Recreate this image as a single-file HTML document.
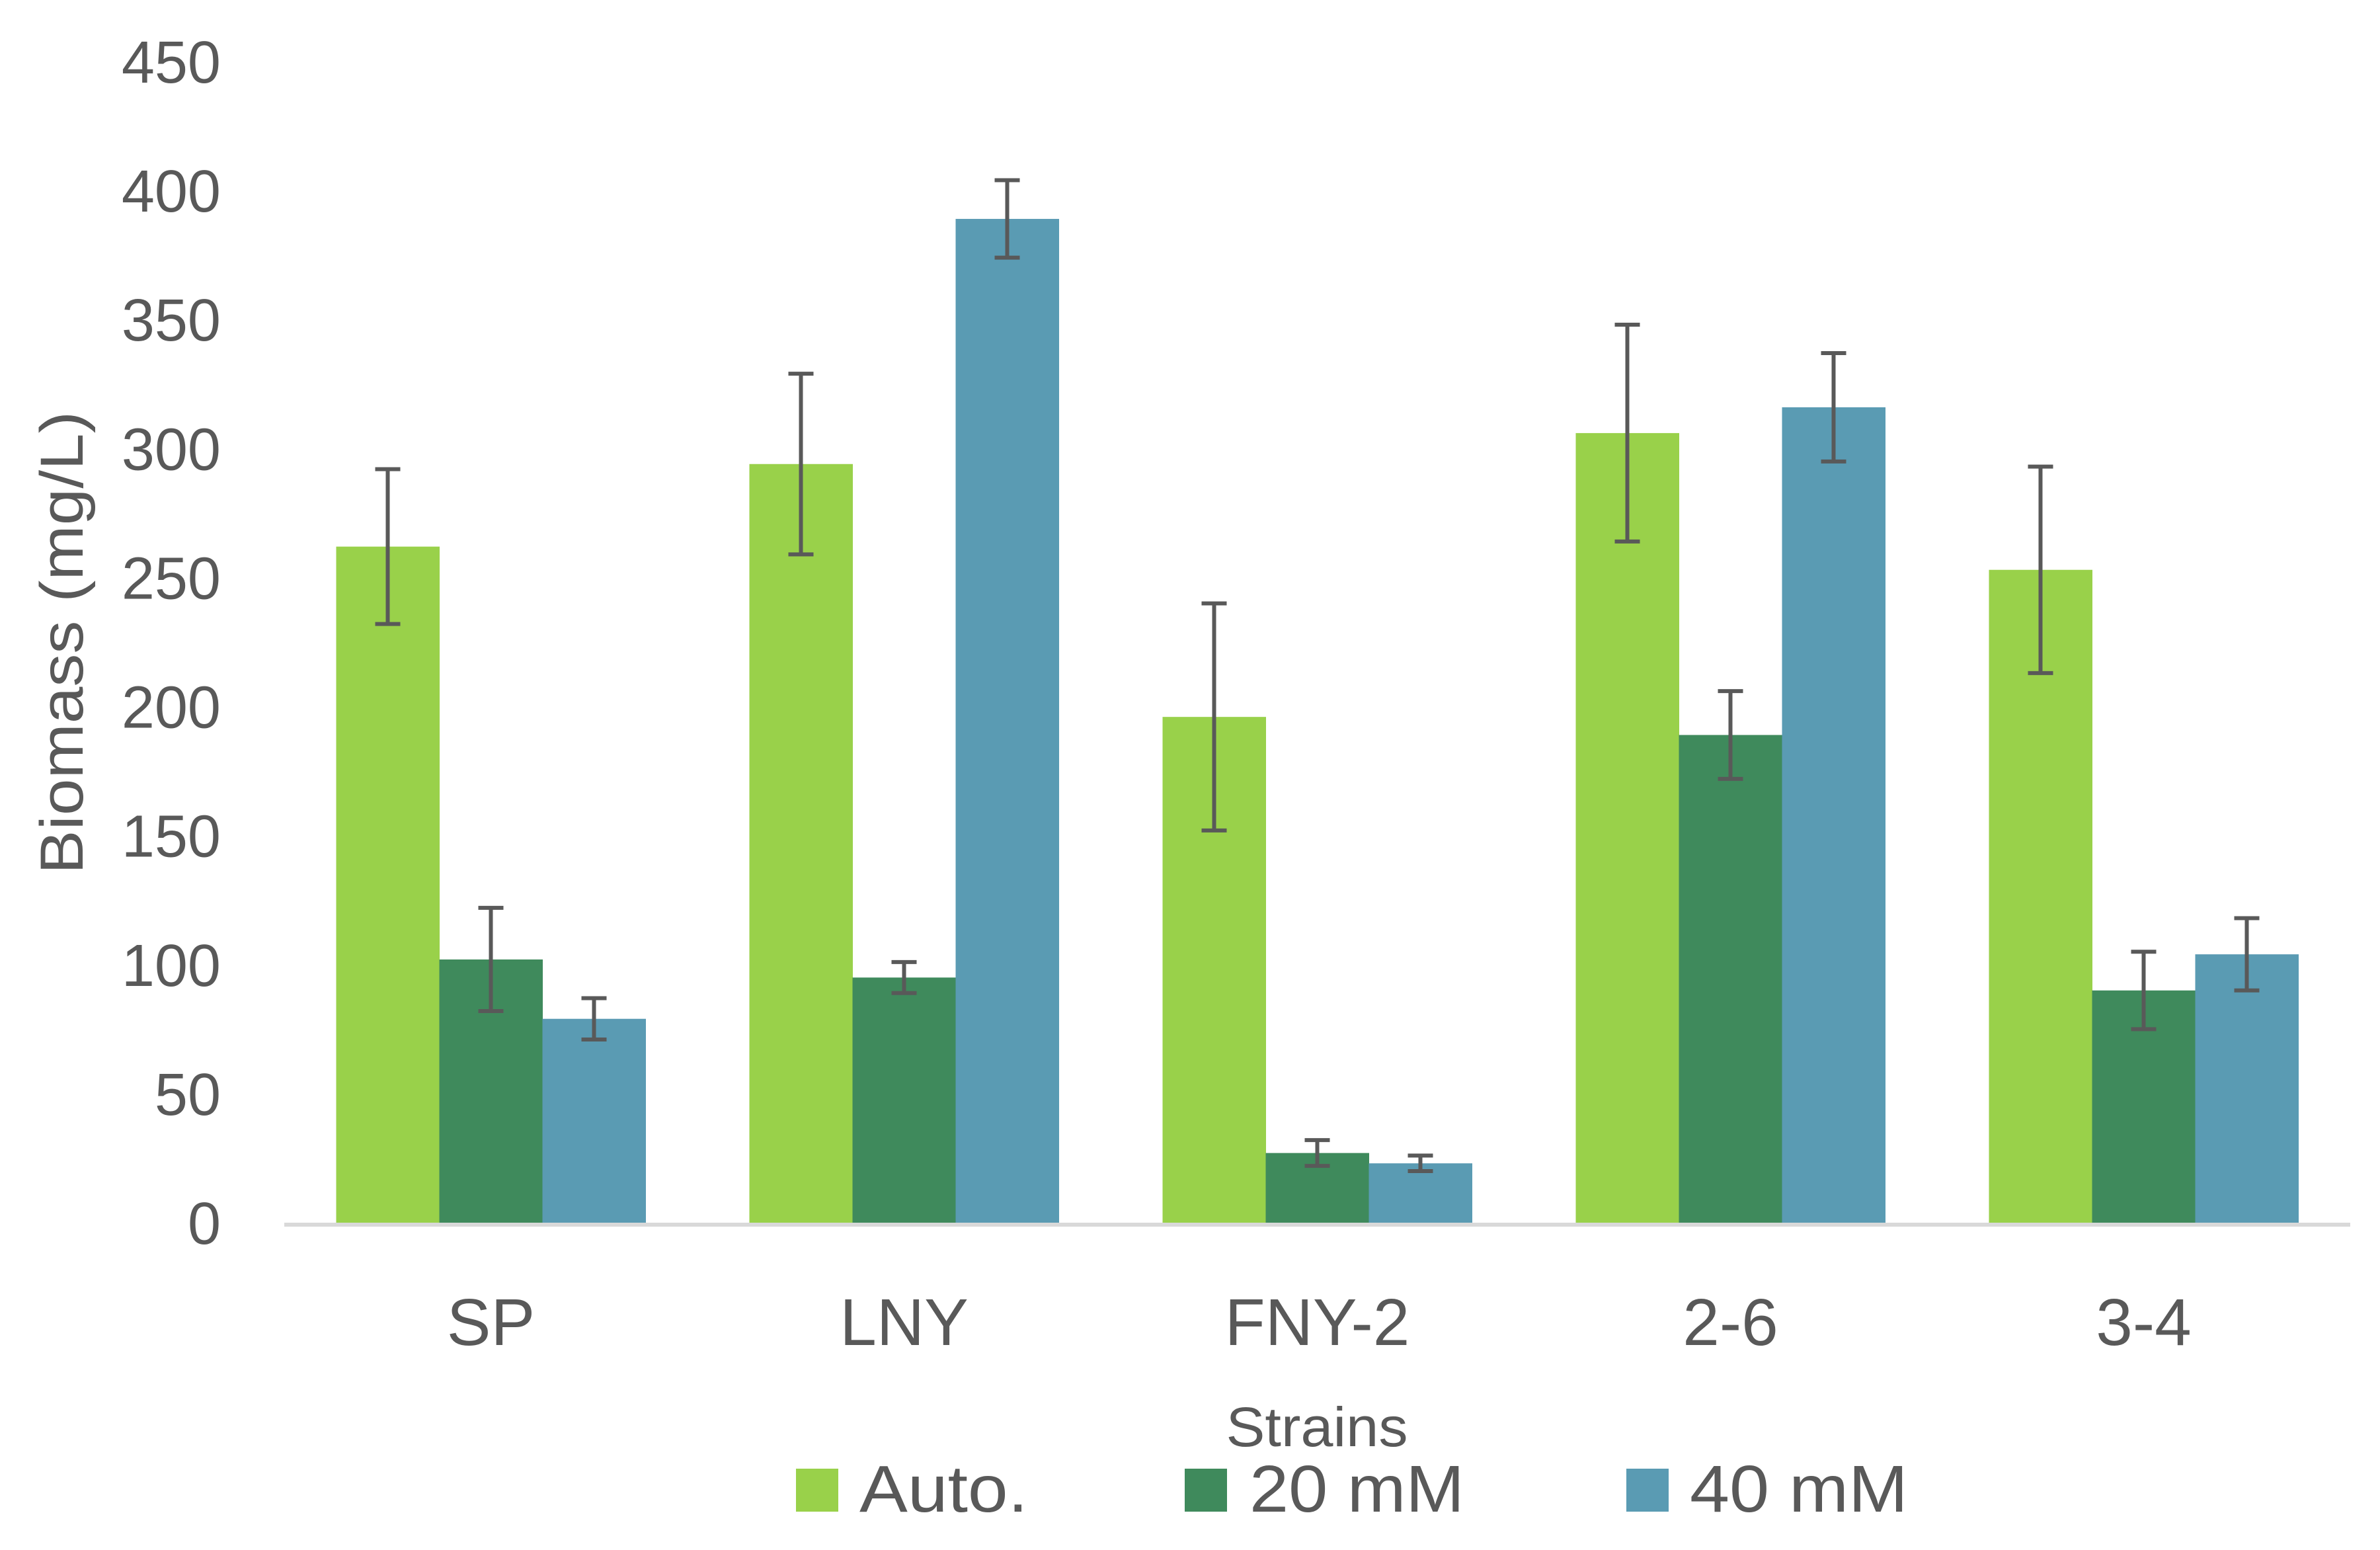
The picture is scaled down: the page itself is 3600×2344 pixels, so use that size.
<!DOCTYPE html>
<html><head><meta charset="utf-8"><style>
html,body{margin:0;padding:0;background:#fff;}
svg{display:block;}
text{font-family:"Liberation Sans",sans-serif;fill:#595959;}
</style></head><body>
<svg id="chart" width="3600" height="2344" viewBox="0 0 3600 2344" xmlns="http://www.w3.org/2000/svg">
<g id="yticks"></g>
<g id="bars"></g>
<g id="errs"></g>
<line x1="430" y1="1852" x2="3555" y2="1852" stroke="#d9d9d9" stroke-width="6"/>
<g id="xlabels"></g>
<text transform="translate(125,972) rotate(-90)" text-anchor="middle" font-size="92" textLength="700" lengthAdjust="spacingAndGlyphs">Biomass (mg/L)</text>
<text x="1992" y="2187" text-anchor="middle" font-size="84" textLength="275" lengthAdjust="spacingAndGlyphs">Strains</text>
<g>
<rect x="1204" y="2221" width="64" height="65" fill="#99D14A"/>
<text x="1300" y="2286" font-size="100" textLength="255" lengthAdjust="spacingAndGlyphs">Auto.</text>
<rect x="1792" y="2221" width="64" height="65" fill="#3F8A5C"/>
<text x="1890" y="2286" font-size="100" textLength="325" lengthAdjust="spacingAndGlyphs">20 mM</text>
<rect x="2460" y="2221" width="64" height="65" fill="#5A9BB3"/>
<text x="2556" y="2286" font-size="100" textLength="330" lengthAdjust="spacingAndGlyphs">40 mM</text>
</g>
</svg>
<script>
const categories = ["SP","LNY","FNY-2","2-6","3-4"];
const autoVals = [262,294,196,306,253];
const mm20Vals = [102,95,27,189,90];
const mm40Vals = [79,389,23,316,104];
const autoErr = [30,35,44,42,40];
const mm20Err = [20,6,5,17,15];
const mm40Err = [8,15,3,21,14];
const yTicks = [0,50,100,150,200,250,300,350,400,450];

const NS="http://www.w3.org/2000/svg";
const x0=430, catW=625, barW=156, yBase=1849, yTop=93, yMax=450;
function yScale(v){return yBase-(v/yMax)*(yBase-yTop);}
function xCat(i){return x0+i*catW+(catW-3*barW)/2;}
function mk(tag,attrs,parent){const e=document.createElementNS(NS,tag);for(const k in attrs)e.setAttribute(k,attrs[k]);parent.appendChild(e);return e;}

const yt=document.getElementById('yticks');
yTicks.forEach(t=>{
  const e=mk('text',{x:334,y:yScale(t)+32,'text-anchor':'end','font-size':90},yt);
  
  
  e.textContent=t;
});
const series=[{v:autoVals,e:autoErr,c:"#99D14A",n:"auto"},{v:mm20Vals,e:mm20Err,c:"#3F8A5C",n:"20mm"},{v:mm40Vals,e:mm40Err,c:"#5A9BB3",n:"40mm"}];
const bg=document.getElementById('bars'), eg=document.getElementById('errs'), xl=document.getElementById('xlabels');
categories.forEach((cat,i)=>{
  series.forEach((s,j)=>{
    const x=xCat(i)+j*barW, y=yScale(s.v[i]);
    const r=mk('rect',{x:x,y:y,width:barW+0.5,height:yBase-y,fill:s.c},bg);
    
    
    const cx=x+barW/2, hi=yScale(s.v[i]+s.e[i]), lo=yScale(s.v[i]-s.e[i]);
    const p=mk('path',{d:`M${cx},${hi}V${lo}M${cx-19},${hi}H${cx+19}M${cx-19},${lo}H${cx+19}`,stroke:'#595959','stroke-width':6,fill:'none'},eg);
    
    
  });
  const t=mk('text',{x:x0+i*catW+catW/2,y:2034,'text-anchor':'middle','font-size':100},xl);
  
  
  t.textContent=cat;
});
</script>
</body></html>
